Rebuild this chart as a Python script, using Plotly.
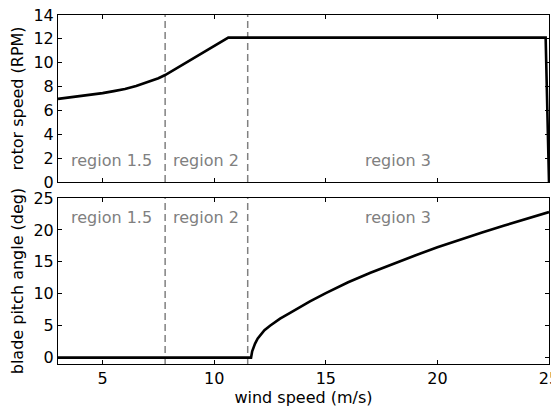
import plotly.graph_objects as go

# ---- data ----
wind_rpm = [3.0, 3.5, 4.0, 4.5, 5.0, 5.5, 6.0, 6.5, 7.0, 7.5, 7.8, 10.63, 24.85, 25.0]
rotor_rpm = [6.97, 7.08, 7.2, 7.32, 7.45, 7.62, 7.8, 8.05, 8.35, 8.7, 8.97, 12.1, 12.1, 0.0]

wind_pitch = [3.0, 11.65, 11.7, 11.75, 11.83, 11.95, 12.05, 12.25, 12.5, 12.95, 13.4,
              13.84, 14.29, 15, 16, 17, 18, 19, 20, 21, 22, 23, 24, 25]
pitch_deg = [0.0, 0.0, 1.0, 1.5, 2.2, 3.0, 3.5, 4.3, 5.0, 6.1, 7.0,
             7.9, 8.8, 10.1, 11.8, 13.3, 14.7, 16.0, 17.3, 18.5, 19.6, 20.7, 21.8, 22.8]

region_bounds = [7.8, 11.5]
region_names = ["region 1.5", "region 2", "region 3"]
region_x = [5.4, 9.65, 18.25]
region_y_top = 1.8
region_y_bottom = 21.9

x_range = [3, 25]
x_ticks = [5, 10, 15, 20, 25]
top_range = [0, 14]
top_ticks = [0, 2, 4, 6, 8, 10, 12, 14]
bot_range = [-1, 25]
bot_ticks = [0, 5, 10, 15, 20, 25]

FONT = "DejaVu Sans"
GRAY = "#808080"
FS = 16

fig = go.Figure()

fig.add_trace(go.Scatter(x=wind_rpm, y=rotor_rpm, mode="lines",
                         line=dict(color="black", width=2.6),
                         xaxis="x2", yaxis="y2", showlegend=False))
fig.add_trace(go.Scatter(x=wind_pitch, y=pitch_deg, mode="lines",
                         line=dict(color="black", width=2.6),
                         xaxis="x", yaxis="y", showlegend=False))

# dashed region boundaries
for xb in region_bounds:
    for xr, yr in [("x", "y domain"), ("x2", "y2 domain")]:
        fig.add_shape(type="line", x0=xb, x1=xb, y0=0, y1=1, xref=xr, yref=yr,
                      line=dict(color=GRAY, width=1.5, dash="7px,4px"), layer="below")

for name, xr in zip(region_names, region_x):
    fig.add_annotation(x=xr, y=region_y_top, xref="x2", yref="y2", text=name,
                       showarrow=False, font=dict(family=FONT, size=FS, color=GRAY))
    fig.add_annotation(x=xr, y=region_y_bottom, xref="x", yref="y", text=name,
                       showarrow=False, font=dict(family=FONT, size=FS, color=GRAY))

axis_common = dict(showline=True, linecolor="black", linewidth=1, mirror="ticks",
                   ticks="inside", ticklen=4, tickcolor="black", tickwidth=1,
                   showgrid=False, zeroline=False, automargin=False,
                   ticklabeloverflow="allow",
                   tickfont=dict(family=FONT, size=FS, color="black"))

# the page body shifts the figure by 8px; margins compensate for it
fig.update_layout(
    width=559, height=411,
    margin=dict(l=50, r=18, t=7, b=55),
    plot_bgcolor="white", paper_bgcolor="white",
    font=dict(family=FONT, size=FS, color="black"),
    xaxis=dict(range=x_range, tickvals=x_ticks, anchor="y", ticklabelstandoff=0,
               title=dict(text="wind speed (m/s)", font=dict(family=FONT, size=FS), standoff=4),
               **axis_common),
    yaxis=dict(range=bot_range, tickvals=bot_ticks, domain=[0, 0.4756], anchor="x",
               title=dict(text="blade pitch angle (deg)", font=dict(family=FONT, size=FS), standoff=7),
               **axis_common),
    xaxis2=dict(range=x_range, tickvals=x_ticks, anchor="y2", matches="x",
                showticklabels=False, **axis_common),
    yaxis2=dict(range=top_range, tickvals=top_ticks, domain=[0.5215, 1], anchor="x2",
                title=dict(text="rotor speed (RPM)", font=dict(family=FONT, size=FS), standoff=7),
                **axis_common),
)

fig.write_html("out.html")
